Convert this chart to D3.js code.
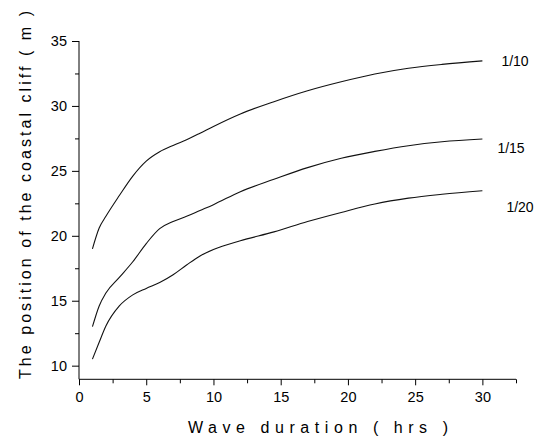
<!DOCTYPE html>
<html>
<head>
<meta charset="utf-8">
<script src="https://cdn.jsdelivr.net/npm/d3@7"></script>
<style>
  html, body { margin: 0; padding: 0; background: #fff; }
  svg { display: block; font-family: "Liberation Sans", Arial, sans-serif; }
</style>
</head>
<body>
<div id="chart"></div>
<script>
const WIDTH = 547;
const HEIGHT = 439;
const margin = { top: 41, right: 31, bottom: 59.7, left: 79 };

// wave duration (hrs)
const durations = [1, 1.5, 2, 3, 4, 5, 6, 7, 8, 9, 10, 12, 14.5, 17, 19.5, 22, 24.5, 27, 30];

// cliff position (m) for each slope
const slope10 = [19.0, 20.6, 21.5, 23.1, 24.6, 25.75, 26.47, 26.96, 27.4, 27.9, 28.42, 29.38, 30.33, 31.17, 31.86, 32.46, 32.9, 33.2, 33.47];
const slope15 = [13.0, 14.6, 15.6, 16.8, 18.0, 19.4, 20.55, 21.1, 21.5, 21.95, 22.4, 23.4, 24.35, 25.25, 25.97, 26.5, 26.94, 27.24, 27.45];
const slope20 = [10.5, 11.8, 13.05, 14.6, 15.45, 15.95, 16.4, 17.0, 17.75, 18.45, 18.95, 19.62, 20.3, 21.1, 21.8, 22.45, 22.9, 23.2, 23.47];

const seriesNames = ['1/10', '1/15', '1/20'];
const seriesValues = [slope10, slope15, slope20];

const xMajorTicks = [0, 5, 10, 15, 20, 25, 30];
const xMinorTicks = [2.5, 7.5, 12.5, 17.5, 22.5, 27.5, 32.5];
const yMajorTicks = [10, 15, 20, 25, 30, 35];
const yMinorTicks = [12.5, 17.5, 22.5, 27.5, 32.5];

const xTitle = 'Wave duration ( hrs )';
const yTitle = 'The position of the coastal cliff ( m )';

// label offsets from the line end, in pixels
const labelOffsets = [[19, 5], [15, 14], [24, 21]];

const svg = d3.select('#chart')
  .append('svg')
  .attr('width', WIDTH)
  .attr('height', HEIGHT);

const x = d3.scaleLinear().domain([0, 32.5]).range([margin.left, WIDTH - margin.right]);
const y = d3.scaleLinear().domain([8.95, 35]).range([HEIGHT - margin.bottom, margin.top]);

// x axis
svg.append('g')
  .attr('transform', `translate(0, ${y(8.95)})`)
  .call(d3.axisBottom(x).tickValues(xMinorTicks).tickSize(4).tickSizeOuter(0).tickFormat(''))
  .call(g => g.select('.domain').remove());

svg.append('g')
  .attr('class', 'x-axis')
  .attr('transform', `translate(0, ${y(8.95)})`)
  .call(d3.axisBottom(x).tickValues(xMajorTicks).tickSize(6).tickPadding(6).tickSizeOuter(0).tickFormat(d3.format('d')))
  .call(g => g.select('.domain').attr('d', `M${x(0)},0H${x(32.5)}`));

// y axis
svg.append('g')
  .attr('transform', `translate(${x(0)}, 0)`)
  .call(d3.axisLeft(y).tickValues(yMinorTicks).tickSize(4).tickSizeOuter(0).tickFormat(''))
  .call(g => g.select('.domain').remove());

svg.append('g')
  .attr('class', 'y-axis')
  .attr('transform', `translate(${x(0)}, 0)`)
  .call(d3.axisLeft(y).tickValues(yMajorTicks).tickSize(7).tickPadding(5).tickSizeOuter(0).tickFormat(d3.format('d')))
  .call(g => g.select('.domain').attr('d', `M0,${y(8.95)}V${y(35)}`));

svg.selectAll('.tick line').attr('stroke', '#000');
svg.selectAll('.domain').attr('stroke', '#000');
svg.selectAll('.x-axis text, .y-axis text')
  .attr('font-size', 14.5)
  .attr('font-family', '"Liberation Sans", Arial, sans-serif')
  .attr('fill', '#000');

// curves
const line = d3.line()
  .x((d, i) => x(durations[i]))
  .y(d => y(d))
  .curve(d3.curveMonotoneX);

svg.append('g')
  .selectAll('path')
  .data(seriesValues)
  .join('path')
  .attr('d', line)
  .attr('fill', 'none')
  .attr('stroke', '#111')
  .attr('stroke-width', 1.1);

svg.append('g')
  .selectAll('text')
  .data(seriesNames)
  .join('text')
  .attr('x', (d, i) => x(durations[durations.length - 1]) + labelOffsets[i][0])
  .attr('y', (d, i) => y(seriesValues[i][seriesValues[i].length - 1]) + labelOffsets[i][1])
  .attr('font-size', 14)
  .attr('fill', '#000')
  .text(d => d);

// axis titles
svg.append('text')
  .attr('x', 318)
  .attr('y', 433)
  .attr('text-anchor', 'middle')
  .attr('font-size', 16)
  .attr('textLength', 260)
  .attr('lengthAdjust', 'spacing')
  .attr('fill', '#000')
  .text(xTitle);

svg.append('text')
  .attr('transform', 'translate(31, 195) rotate(-90)')
  .attr('text-anchor', 'middle')
  .attr('font-size', 16)
  .attr('textLength', 368)
  .attr('lengthAdjust', 'spacing')
  .attr('fill', '#000')
  .text(yTitle);
</script>
</body>
</html>
